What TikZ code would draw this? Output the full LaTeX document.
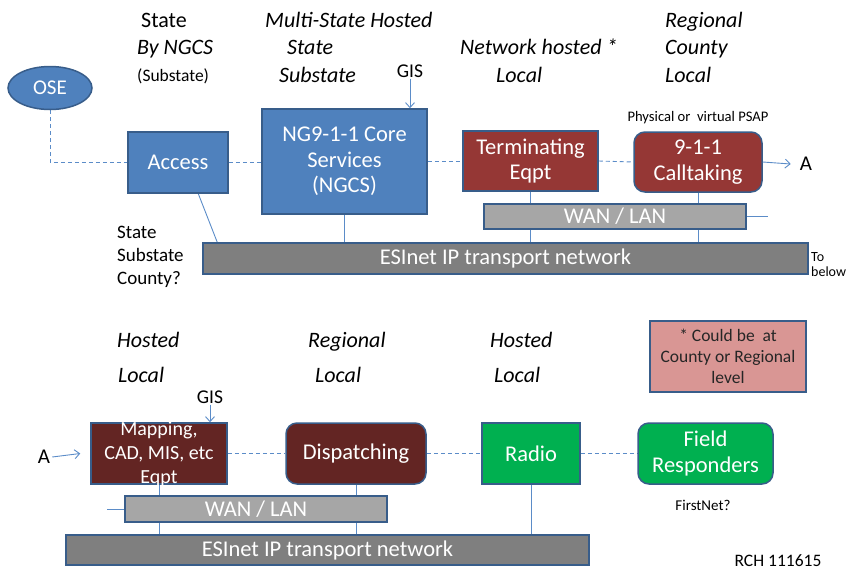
\documentclass[tikz,border=0pt]{standalone}
\usepackage{fontspec}
\setmainfont{Carlito}
\usetikzlibrary{arrows.meta,shapes.geometric,backgrounds,calc}
\definecolor{bfill}{HTML}{4F81BD}
\definecolor{bdraw}{HTML}{385D8A}
\definecolor{rfill}{HTML}{953735}
\definecolor{dfill}{HTML}{632523}
\definecolor{gfill}{HTML}{00B050}
\definecolor{esgray}{HTML}{7F7F7F}
\definecolor{wangray}{HTML}{A6A6A6}
\definecolor{notefill}{HTML}{D99694}
\definecolor{conn}{HTML}{5B8CC8}
\newcommand\bxf{\fontsize{22.5}{25.5}\selectfont}
\newcommand\itf{\fontsize{22}{24}\selectfont\itshape}
\tikzset{
  bx/.style={draw=bdraw, line width=1.5pt, text=white, align=center, font=\bxf, inner sep=0pt},
  bluebox/.style={bx, fill=bfill},
  redbox/.style={bx, fill=rfill},
  darkbox/.style={bx, fill=dfill},
  greenbox/.style={bx, fill=gfill},
  esbox/.style={bx, fill=esgray},
  wanbox/.style={bx, fill=wangray},
  rnd/.style={rounded corners=11pt},
  lab/.style={font=\itf, anchor=base west, inner sep=0pt},
  conline/.style={draw=conn, line width=0.9pt},
  dline/.style={draw=conn, line width=0.9pt, dash pattern=on 4pt off 3pt},
  arr/.style={draw=conn, line width=0.9pt, -{Straight Barb[length=5pt,width=9pt]}},
}
\begin{document}
\begin{tikzpicture}[x=1pt,y=-1pt]
\useasboundingbox (0,0) rectangle (846,571);
% ---------- top part ----------
\node[ellipse, draw=bdraw, line width=1.5pt, fill=bfill, text=white, minimum width=84pt, minimum height=43pt, inner sep=0pt, font=\fontsize{21}{24}\selectfont] (ose) at (50,88) {OSE};
\node[bluebox, minimum width=100pt, minimum height=61pt] (acc) at (178,162.5) {Access};
\node[bluebox, minimum width=165pt, minimum height=105pt] (ngcs) at (344.5,161.5) {NG9-1-1 Core\\Services\\(NGCS)};
\node[redbox, minimum width=135pt, minimum height=60pt] (term) at (530.5,161) {Terminating\\Eqpt};
\node[redbox, rnd, minimum width=128pt, minimum height=60pt] (call) at (698,162) {9-1-1\\Calltaking};
\node[wanbox, minimum width=262pt, minimum height=25pt] (wan1) at (615,216.5) {WAN / LAN};
\node[esbox, minimum width=605pt, minimum height=31pt] (es1) at (505.5,258.5) {ESInet IP transport network};
\node[font=\fontsize{21}{24}\selectfont, inner sep=0pt] (a1) at (806,164) {A};
\node[font=\fontsize{19.5}{22}\selectfont, inner sep=1pt] (gis1) at (410,71) {GIS};
\node[font=\fontsize{14.6}{16}\selectfont, inner sep=0pt] (psap) at (698,118) {Physical or\ \ virtual PSAP};
\node[font=\fontsize{14}{15}\selectfont, anchor=west, align=left, inner sep=0pt] (tob) at (811,265) {To\\below};
\coordinate (wan1r) at (768,216.5);

\begin{scope}[on background layer]
\draw[dline] (ose.south) |- (acc.west);
\draw[dline] (acc.east) -- (acc.east -| ngcs.west);
\draw[dline] (ngcs.east |- term.west) -- (term.west);
\draw[dline] (term.east) -- (call.west);
\draw[conline] ($(acc.south west)!0.7!(acc.south east)$) -- ([xshift=15pt]es1.north west);
\draw[conline] (ngcs.south) -- (ngcs.south |- es1.north);
\draw[conline] (term.south) -- (term.south |- es1.north);
\draw[conline] (call.south) -- (call.south |- es1.north);
\draw[conline] (wan1.east) -- (wan1r);
\end{scope}
\draw[arr] (call.east) -- ([xshift=-9pt]a1.west);
\draw[arr] (gis1.south) -- (gis1.south |- ngcs.north);

% top labels
\node[lab, font=\fontsize{22}{24}\selectfont] (l1) at (141,27) {State};
\node[lab] (l2) at (137,54) {By NGCS};
\node[lab, font=\fontsize{17.5}{20}\selectfont] (l3) at (137,81) {(Substate)};
\node[lab] (l4) at (265,27) {Multi-State Hosted};
\node[lab] (l5) at (287,54) {State};
\node[lab] (l6) at (279,82) {Substate};
\node[lab] (l7) at (460,54) {Network hosted *};
\node[lab] (l8) at (496,82) {Local};
\node[lab] (l9) at (665,27) {Regional};
\node[lab] (l10) at (665,54) {County};
\node[lab] (l11) at (665,82) {Local};
\node[lab, font=\fontsize{19}{23}\selectfont, align=left, anchor=north west] (ssc) at (117,226) {State\\Substate\\County?};

% ---------- bottom part ----------
\node[lab] (b1) at (117,347) {Hosted};
\node[lab] (b2) at (118,382) {Local};
\node[lab] (b3) at (308,347) {Regional};
\node[lab] (b4) at (315,382) {Local};
\node[lab] (b5) at (490,347) {Hosted};
\node[lab] (b6) at (494,382) {Local};
\node[draw=bdraw, line width=1.5pt, fill=notefill, minimum width=156pt, minimum height=71pt, inner sep=0pt, align=center, text=black!85, font=\fontsize{17.5}{21}\selectfont] (note) at (728,356.5) {* Could be\ \ at\\County or Regional\\level};

\node[darkbox, minimum width=136pt, minimum height=61pt] (map) at (159,453.5) {};
\node[text=white, align=center, font=\fontsize{20}{24}\selectfont, inner sep=0pt] (mapt) at (159,454) {Mapping,\\CAD, MIS, etc\\Eqpt};
\node[darkbox, rnd, minimum width=140pt, minimum height=61pt] (disp) at (356,453.5) {Dispatching};
\node[greenbox, minimum width=98pt, minimum height=61pt] (radio) at (531,453.5) {Radio};
\node[greenbox, rnd, minimum width=135pt, minimum height=61pt] (field) at (705.5,453.5) {Field\\Responders};
\node[wanbox, minimum width=262pt, minimum height=26pt] (wan2) at (256,509) {WAN / LAN};
\node[esbox, minimum width=523pt, minimum height=30pt] (es2) at (327.5,550) {ESInet IP transport network};
\node[font=\fontsize{21}{24}\selectfont, inner sep=0pt] (a2) at (44,457) {A};
\node[font=\fontsize{19.5}{22}\selectfont, inner sep=1pt] (gis2) at (210,397) {GIS};
\node[font=\fontsize{15}{17}\selectfont, inner sep=0pt] (fn) at (703,505) {FirstNet?};
\node[font=\fontsize{17.5}{20}\selectfont, inner sep=0pt] (rch) at (778,561) {RCH 111615};
\coordinate (wan2l) at (107,509);

\begin{scope}[on background layer]
\draw[dline] (map.east |- disp.west) -- (disp.west);
\draw[dline] (disp.east) -- (radio.west);
\draw[dline] (radio.east) -- (field.west);
\draw[conline] (map.south) -- (map.south |- es2.north);
\draw[conline] (disp.south) -- (disp.south |- es2.north);
\draw[conline] (radio.south) -- (radio.south |- es2.north);
\draw[conline] (wan2l) -- (wan2.west);
\end{scope}
\draw[arr] ([xshift=2pt]a2.east) -- ([xshift=-10pt]map.west);
\draw[arr] (gis2.south) -- (gis2.south |- map.north);
\end{tikzpicture}
\end{document}
